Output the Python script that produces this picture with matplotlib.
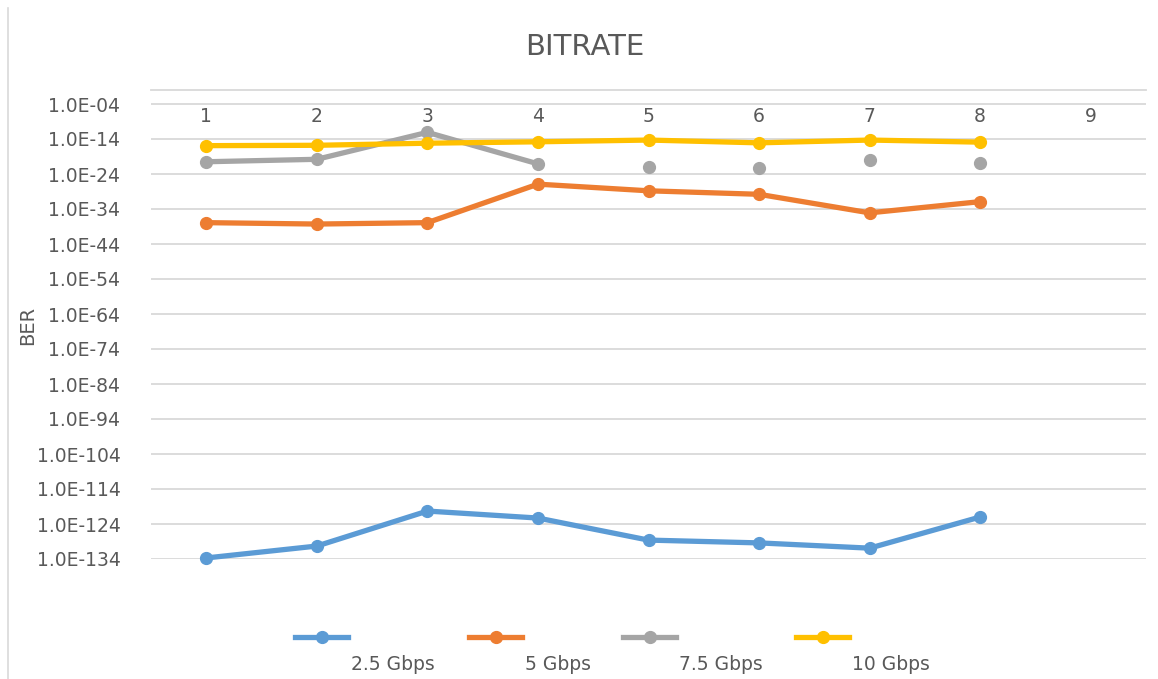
import math
import numpy as np
import matplotlib.pyplot as plt
from matplotlib.lines import Line2D
from matplotlib.ticker import FixedLocator, FuncFormatter

# data: BER as log10 exponents
categories = [1, 2, 3, 4, 5, 6, 7, 8, 9]
points = [1, 2, 3, 4, 5, 6, 7, 8]
exp_2_5 = [-133.7, -130.3, -120.3, -122.3, -128.6, -129.4, -130.9, -122.0]
exp_5 = [-37.9, -38.3, -37.9, -26.9, -28.8, -29.8, -35.1, -31.9]
exp_7_5 = [-20.5, -19.8, -12.1, -21.1, -22.0, -22.2, -20.0, -20.9]
exp_10 = [-15.9, -15.8, -15.2, -14.8, -14.3, -15.1, -14.3, -14.9]
labels = ["2.5 Gbps", "5 Gbps", "7.5 Gbps", "10 Gbps"]
colors = ["#5B9BD5", "#ED7D31", "#A5A5A5", "#FFC000"]
ytick_exps = list(range(-134, 0, 10))

ber_2_5 = 10.0 ** np.array(exp_2_5)
ber_5 = 10.0 ** np.array(exp_5)
ber_7_5 = 10.0 ** np.array(exp_7_5)
ber_10 = 10.0 ** np.array(exp_10)

txt = "#595959"
grid = "#D9D9D9"

plt.rcParams['font.family'] = ['DejaVu Sans']

W, H = 1158, 679
fig = plt.figure(figsize=(W / 100, H / 100), dpi=100)
ax = fig.add_axes([151 / W, 1 - 559 / H, 995 / W, 469 / H])

lw = 3.8
ms = 8.5
kw = dict(marker='o', ms=ms, zorder=3, clip_on=False)
ax.plot(points, ber_2_5, color=colors[0], lw=lw, **kw)
ax.plot(points, ber_5, color=colors[1], lw=lw, **kw)
# 7.5 Gbps: line only joins the first four points
ax.plot(points[:4], ber_7_5[:4], color=colors[2], lw=lw, **kw)
ax.plot(points[4:], ber_7_5[4:], color=colors[2], ls='none', **kw)
ax.plot(points, ber_10, color=colors[3], lw=lw, **kw)

ax.set_yscale('log')
ax.set_ylim(1e-134, 1e0)
ax.set_xlim(0.5, 9.5)
ax.yaxis.set_major_locator(FixedLocator([10.0 ** e for e in ytick_exps]))
ax.yaxis.set_minor_locator(FixedLocator([]))
ax.yaxis.set_major_formatter(FuncFormatter(lambda v, p: "1.0E-%02d" % round(-math.log10(v))))
ax.tick_params(axis='y', length=0, pad=22, labelsize=13.5, labelcolor=txt)
ax.grid(axis='y', color=grid, lw=1.3)
ax.set_axisbelow(True)

# category axis sits at the top (crosses at 1), labels just below it
ax.set_xticks(categories)
ax.xaxis.set_ticks_position('top')
ax.tick_params(axis='x', length=0, pad=-26, labelsize=13.5, labelcolor=txt,
               labeltop=True, labelbottom=False)

for s in ['left', 'right', 'bottom']:
    ax.spines[s].set_visible(False)
ax.spines['top'].set_color(grid)
ax.spines['top'].set_linewidth(1.3)

fig.text(585 / W, 1 - 47 / H, "BITRATE", ha='center', va='center', fontsize=21, color=txt)
fig.text(28 / W, 1 - 325 / H, "BER", ha='center', va='center', rotation=90, fontsize=14, color=txt)

# legend: handles on one row, labels offset below and to the right
hx = [293, 467, 621, 794]
for i in range(4):
    x0 = hx[i]
    fig.add_artist(Line2D([(x0 + 2) / W, (x0 + 55) / W], [1 - 637 / H, 1 - 637 / H],
                          color=colors[i], lw=lw, transform=fig.transFigure))
    fig.add_artist(Line2D([(x0 + 28.5) / W], [1 - 637 / H], color=colors[i], marker='o',
                          ms=ms, ls='none', transform=fig.transFigure))
    fig.text((x0 + 58) / W, 1 - 664 / H, labels[i], ha='left', va='center',
             fontsize=13.5, color=txt)

# chart area border (left edge only visible)
fig.add_artist(Line2D([8 / W, 8 / W], [0, 1 - 8 / H], color=grid, lw=1.2,
                      transform=fig.transFigure))

fig.savefig("out.png", dpi=100)
